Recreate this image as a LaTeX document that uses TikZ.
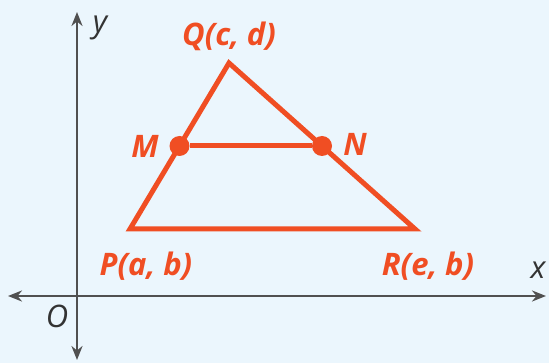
\documentclass[tikz,border=0pt]{standalone}
\usepackage{fontspec}
\setmainfont{Open Sans}
\usetikzlibrary{arrows.meta,calc}
\definecolor{bg}{HTML}{EBF6FD}
\definecolor{tri}{HTML}{F04E23}
\definecolor{ax}{HTML}{505050}
\begin{document}
\begin{tikzpicture}[x=1pt,y=-1pt,
  axis/.style={draw=ax,line width=2.6pt,-{Stealth[length=14pt,width=11pt]}},
  side/.style={draw=tri,line width=5pt,line join=miter},
  lbl/.style={text=tri,font=\fontsize{31}{31}\selectfont\itshape\bfseries,inner sep=0pt},
  albl/.style={text=black!80,font=\fontsize{31}{31}\selectfont\itshape,inner sep=0pt},
  dot/.style={circle,fill=tri,inner sep=0pt,minimum size=20pt}]
\fill[bg] (0,0) rectangle (549,363);
\useasboundingbox (0,0) rectangle (549,363);
\coordinate (O) at (77,296);
\coordinate (xr) at (546,296);
\coordinate (xl) at (8,296);
\coordinate (yt) at (77,12);
\coordinate (yb) at (77,360);
\draw[axis] (O) -- (xr);
\draw[axis] (O) -- (xl);
\draw[axis] (O) -- (yt);
\draw[axis] (O) -- (yb);
\coordinate (P) at (130,229);
\coordinate (Q) at (229,63);
\coordinate (R) at (415,229);
\draw[side] (P) -- (Q) -- (R) -- cycle;
\node[dot] (M) at ($(P)!0.5!(Q)$) {};
\node[dot] (N) at ($(Q)!0.5!(R)$) {};
\draw[side] (M) -- (N);
\node[lbl] (lQ) at (229,36) {Q(c, d)};
\node[lbl] (lM) at (145,146) {M};
\node[lbl] (lN) at (355,144) {N};
\node[lbl] (lP) at (146,266) {P(a, b)};
\node[lbl] (lR) at (428,266) {R(e, b)};
\node[albl] (lx) at (538,270) {x};
\node[albl] (ly) at (100,28) {y};
\node[albl] (lO) at (57,316) {O};
\end{tikzpicture}
\end{document}
